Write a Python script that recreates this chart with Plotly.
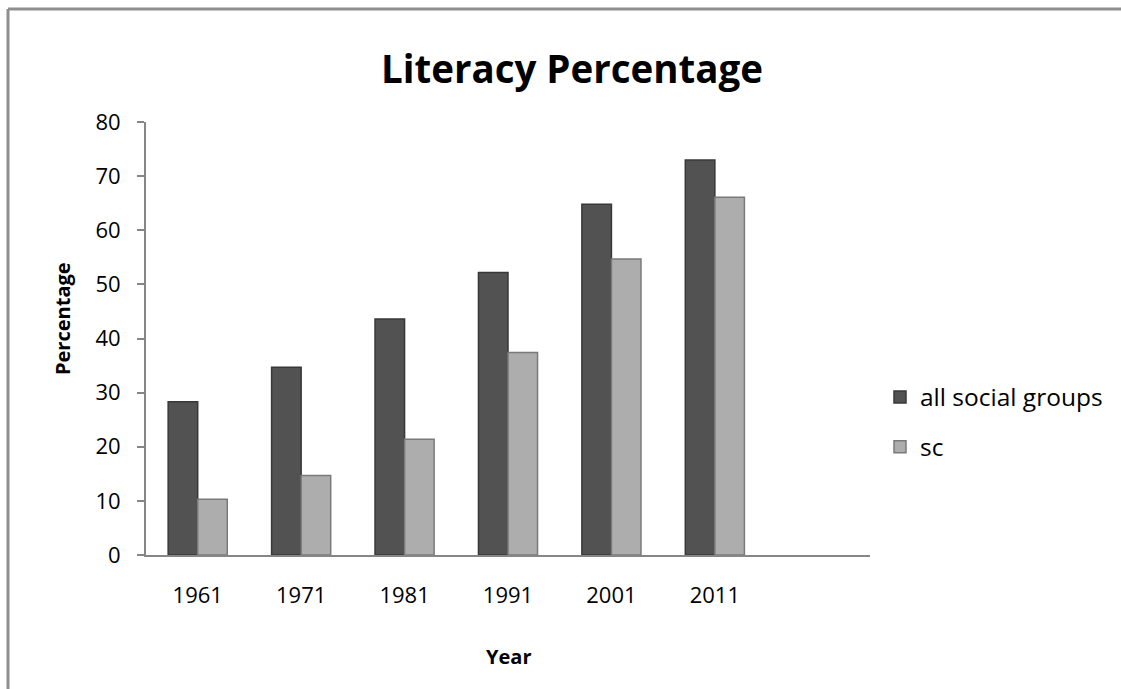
import plotly.graph_objects as go

years = ["1961", "1971", "1981", "1991", "2001", "2011"]
all_groups = [28.3, 34.7, 43.6, 52.2, 64.8, 73.0]
sc = [10.3, 14.7, 21.4, 37.4, 54.7, 66.1]
y_ticks = [0, 10, 20, 30, 40, 50, 60, 70, 80]

W, H = 1121, 689
ML, MR, MT, MB = 146, 251, 122, 134
PW, PH = W - ML - MR, H - MT - MB

FONT = "Open Sans"

fig = go.Figure()
fig.add_trace(go.Bar(
    x=years, y=all_groups, name="all social groups", legendgroup="a",
    marker=dict(color="#525252", line=dict(color="#383838", width=1.5)),
))
fig.add_trace(go.Bar(
    x=years, y=sc, name="sc", legendgroup="b",
    marker=dict(color="#adadad", line=dict(color="#7a7a7a", width=1.5)),
))

def px_x(p):
    return (p - ML) / PW

def px_y(p):
    return (H - MB - p) / PH

shapes = [
    dict(type="line", xref="paper", yref="paper",
         x0=px_x(8), x1=px_x(W + 2), y0=px_y(9), y1=px_y(9),
         line=dict(color="#8f8f8f", width=3)),
    dict(type="line", xref="paper", yref="paper",
         x0=px_x(8), x1=px_x(8), y0=px_y(9), y1=px_y(H + 2),
         line=dict(color="#8f8f8f", width=3)),
]

annotations = [
    dict(text="<b>Percentage</b>", xref="paper", yref="paper",
         x=px_x(62), y=px_y(319), xanchor="center", yanchor="middle",
         textangle=-90, showarrow=False,
         font=dict(family=FONT, size=20, color="black")),
    dict(text="<b>Year</b>", xref="paper", yref="paper",
         x=px_x(508), y=px_y(656), xanchor="center", yanchor="middle",
         showarrow=False, font=dict(family=FONT, size=20, color="black")),
]

fig.update_layout(
    width=W, height=H,
    margin=dict(l=ML, r=MR, t=MT, b=MB, autoexpand=False),
    paper_bgcolor="white", plot_bgcolor="white",
    barmode="group", bargap=1.5 / 3.5, bargroupgap=0,
    title=dict(text="<b>Literacy Percentage</b>", xref="container", x=572 / W,
               xanchor="center", y=(H - 70) / H, yanchor="middle",
               font=dict(family=FONT, size=38.5, color="black")),
    font=dict(family=FONT, color="black"),
    showlegend=True,
    legend=dict(x=px_x(880), xanchor="left", y=px_y(422), yanchor="middle",
                font=dict(family=FONT, size=24.5, color="black"),
                traceorder="grouped", tracegroupgap=15, bgcolor="rgba(0,0,0,0)"),
    shapes=shapes,
    annotations=annotations,
)
fig.update_xaxes(
    type="category", categoryorder="array", categoryarray=years,
    range=[-0.5, 6.5], showline=True, linecolor="#868686", linewidth=2,
    ticks="", showgrid=False, zeroline=False,
    tickfont=dict(family=FONT, size=22, color="black"),
    ticklabelstandoff=20,
)
fig.update_yaxes(
    range=[0, 80], tickvals=y_ticks, showline=True, linecolor="#868686", linewidth=2,
    ticks="outside", ticklen=7, tickcolor="#868686", tickwidth=2,
    showgrid=False, zeroline=False,
    tickfont=dict(family=FONT, size=22, color="black"),
    ticklabelstandoff=12,
)

fig.write_html("out.html")
